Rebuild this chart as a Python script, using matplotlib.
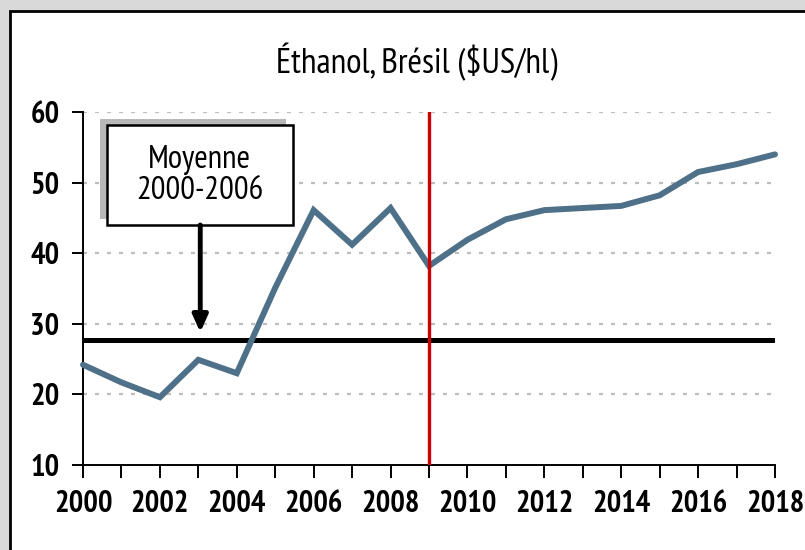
import matplotlib
matplotlib.use("Agg")
import matplotlib.pyplot as plt
from matplotlib.patches import Rectangle

years = list(range(2000, 2019))
ethanol = [24.2, 21.7, 19.6, 24.9, 23.0, 35.1, 46.1, 41.2, 46.4, 38.2,
           41.9, 44.8, 46.1, 46.4, 46.7, 48.2, 51.5, 52.6, 54.0]
moyenne = 27.7
vline_year = 2009
yticks = [10, 20, 30, 40, 50, 60]
xticks_major = list(range(2000, 2019, 2))
title = "Éthanol, Brésil ($US/hl)"
box_text = "Moyenne\n2000-2006"

plt.rcParams['font.family'] = ['PT Sans Narrow', 'Roboto Condensed', 'Archivo Narrow', 'DejaVu Sans']

W, H = 805, 550
fig = plt.figure(figsize=(W/100, H/100), dpi=100, facecolor='#d9d9d9')
# chart frame
fig.patches.append(Rectangle((10/W, -0.1), 1.2, 1 - 11/H + 0.1, transform=fig.transFigure,
                             facecolor='white', edgecolor='black', linewidth=2, zorder=-5))

ax = fig.add_axes([83/W, 1 - 465/H, (775 - 83)/W, (465 - 112)/H])
ax.set_facecolor('none')
ax.set_xlim(2000, 2018)
ax.set_ylim(10, 60)

for y in yticks[1:]:
    ax.axhline(y, color='#bdbdbd', linewidth=1.6, dashes=(1.8, 3.6), zorder=1)

ax.plot(years, ethanol, color='#4e7189', linewidth=4.3, solid_capstyle='round',
        solid_joinstyle='miter', zorder=4, clip_on=False)
ax.axhline(moyenne, color='black', linewidth=3.6, zorder=3)
ax.axvline(vline_year, color='#cc0000', linewidth=2.4, zorder=5)

for s in ['top', 'right']:
    ax.spines[s].set_visible(False)
for s in ['left', 'bottom']:
    ax.spines[s].set_linewidth(1.4)

ax.set_yticks(yticks)
ax.set_xticks(xticks_major)
ax.set_xticks(years, minor=True)
ax.tick_params(axis='y', direction='out', length=8, width=1.4, labelsize=22, pad=9)
ax.tick_params(axis='x', which='both', direction='out', length=9, width=1.4, labelsize=22, pad=9)
for lab in ax.get_xticklabels() + ax.get_yticklabels():
    lab.set_fontweight('bold')

fig.text(417/W, 1 - 62/H, title, ha='center', va='center', fontsize=25.5)

# annotation box with shadow
x0, x1 = 2000.62, 2005.46
y0, y1 = 44.0, 58.1
dx, dy = -7/38.44, 6/7.06
ax.add_patch(Rectangle((x0 + dx, y0 + dy), x1 - x0, y1 - y0, facecolor='#b8b8b8',
                       edgecolor='none', zorder=6, clip_on=False))
ax.add_patch(Rectangle((x0, y0), x1 - x0, y1 - y0, facecolor='white',
                       edgecolor='black', linewidth=1.8, zorder=7, clip_on=False))
ax.text((x0 + x1) / 2, (y0 + y1) / 2, box_text, ha='center', va='center',
        fontsize=23.5, linespacing=1.05, zorder=8)
ax.annotate('', xy=(2003.05, 28.8), xytext=(2003.05, y0),
            arrowprops=dict(arrowstyle='-|>,head_length=1.0,head_width=0.45',
                            color='black', linewidth=3.5, shrinkA=0, shrinkB=0),
            zorder=8)

fig.savefig('out.png', dpi=100, facecolor=fig.get_facecolor())
